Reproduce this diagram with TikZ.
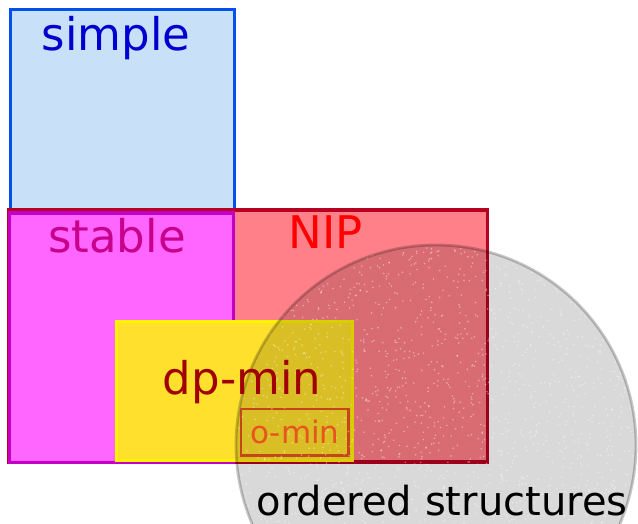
\documentclass[tikz,border=0pt]{standalone}
\usepackage{fontspec}
\setmainfont{DejaVu Sans}
\begin{document}
\definecolor{simplefill}{HTML}{C8E0F8}
\definecolor{simpleline}{HTML}{0050F0}
\definecolor{simpletext}{HTML}{0000D0}
\definecolor{nipfill}{HTML}{FF8088}
\definecolor{nipline}{HTML}{B80020}
\definecolor{niptext}{HTML}{FF0000}
\definecolor{stablefill}{HTML}{FF66FF}
\definecolor{stableline}{HTML}{C400C8}
\definecolor{stabletext}{HTML}{C8008C}
\definecolor{dpfill}{HTML}{FFE02C}
\definecolor{dpline}{HTML}{FFF400}
\definecolor{dptext}{HTML}{A00000}
\definecolor{ominline}{HTML}{E8541E}
\tikzset{
  region/.style={line width=3.5pt},
  label/.style={font=\fontsize{45}{45}\selectfont, anchor=base, inner sep=0pt},
}
\begin{tikzpicture}[x=1pt,y=-1pt]
\useasboundingbox (0,0) rectangle (638,524);
\clip (0,0) rectangle (638,524);
% class regions
\draw[region, fill=simplefill, draw=simpleline] (10.5,9.5) rectangle (234.5,212);
\draw[region, fill=nipfill, draw=nipline] (8.5,210) rectangle (487.5,462);
\draw[region, fill=stablefill, draw=stableline] (9.5,213) rectangle (233.5,462.5);
\draw[region, fill=dpfill, draw=dpline] (116.5,321.5) rectangle (352.5,460.5);
\draw[line width=2.8pt, draw=ominline] (241,409) rectangle (348.5,455.5);
% ordered structures disc, with a speckled surface
\coordinate (c) at (436,445);
\fill[black, fill opacity=0.15] (c) circle (200);
\begin{scope}
  \clip (c) circle (200);
  \pgfmathsetseed{7}
  \foreach \i in {1,...,2200} {
    \fill[white, opacity=0.4] ({436+200*rand},{445+200*rand}) circle (0.9);
  }
\end{scope}
\draw[line width=2.8pt, draw=black, draw opacity=0.22] (c) circle (200);
% labels
\node[label, text=simpletext] (simple) at (116,51) {simple};
\node[label, text=stabletext] (stable) at (117,253) {stable};
\node[label, text=niptext] (nip) at (326,249) {NIP};
\node[label, text=dptext] (dpmin) at (242,394) {dp-min};
\node[label, text=ominline, font=\fontsize{31}{31}\selectfont] (omin) at (295,443) {o-min};
\node[label, text=black, font=\fontsize{40}{40}\selectfont] (ordered) at (442,515) {ordered structures};
\end{tikzpicture}
\end{document}
